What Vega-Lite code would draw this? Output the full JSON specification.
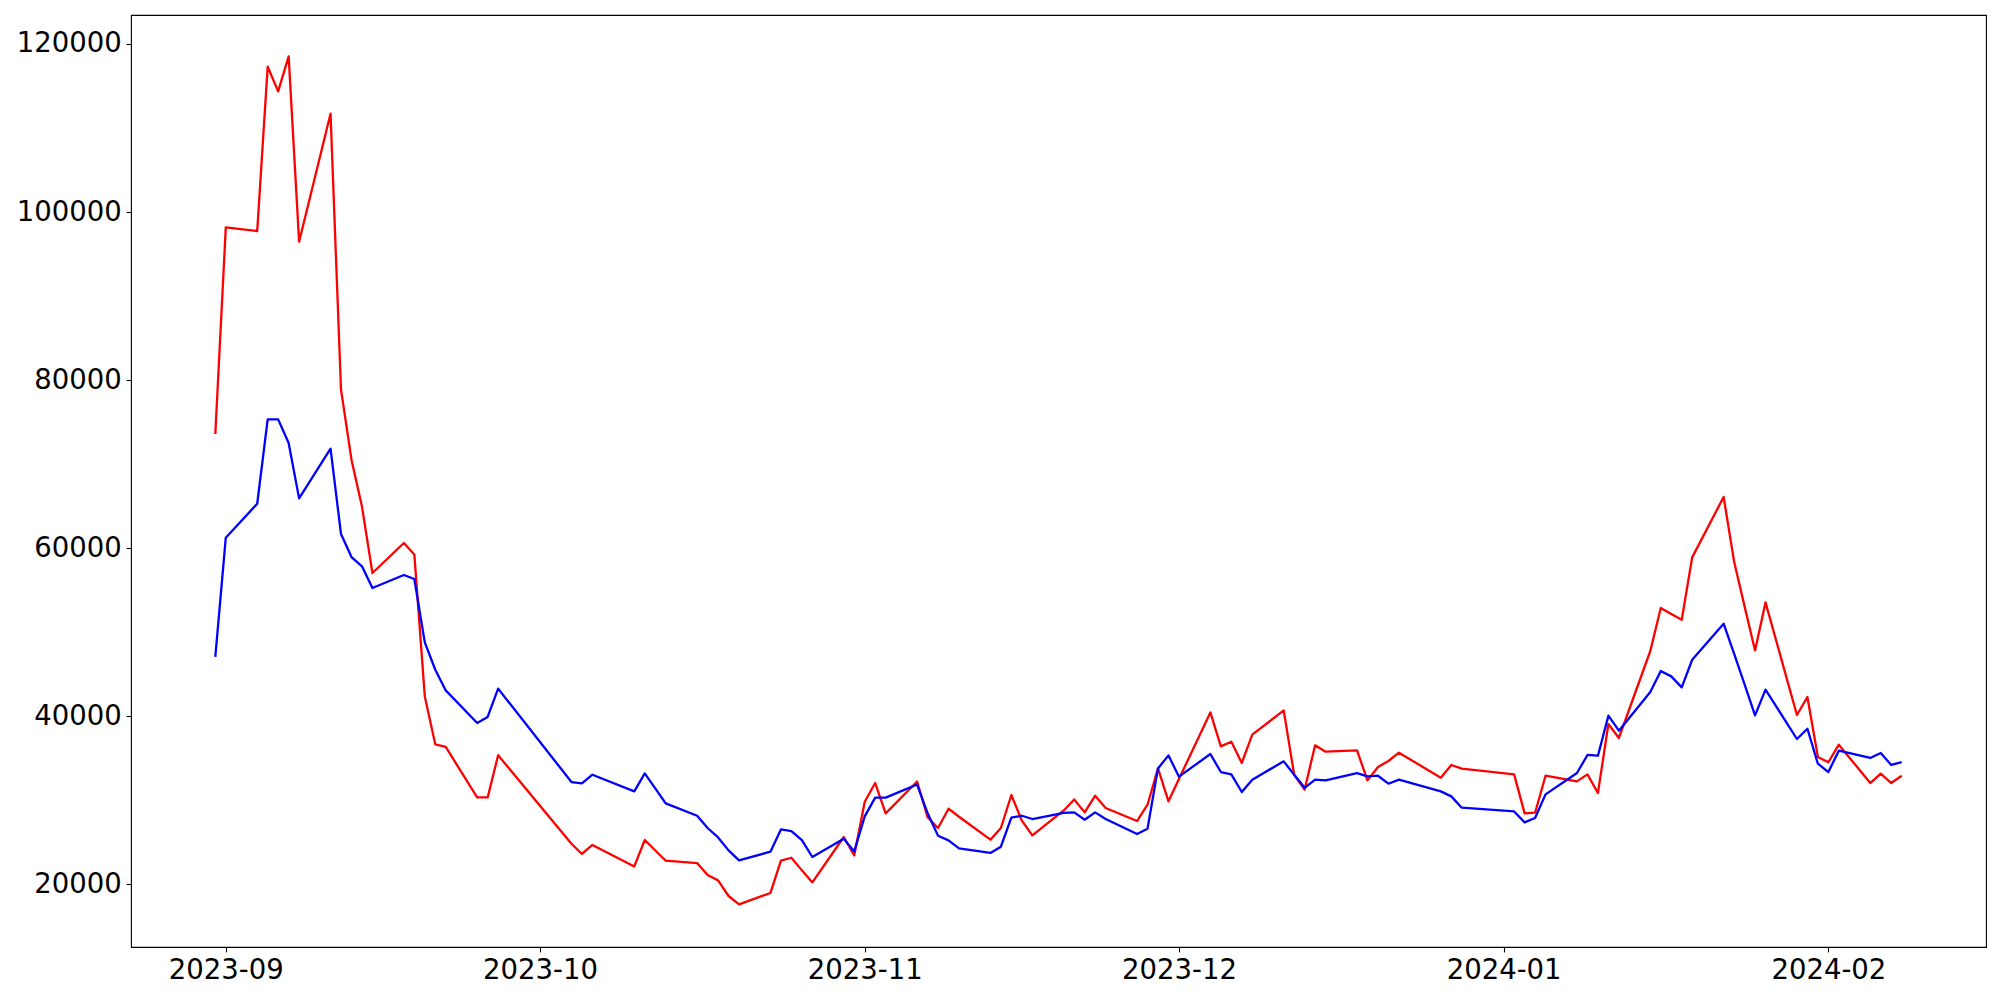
{
  "$schema": "https://vega.github.io/schema/vega-lite/v6.json",
  "width": 1855,
  "height": 932,
  "autosize": {"type": "none"},
  "padding": {"left": 131, "top": 15, "right": 14, "bottom": 53},
  "background": "white",
  "config": {
    "view": {"stroke": "black", "strokeWidth": 1.1},
    "axis": {
      "domain": false,
      "grid": false,
      "ticks": true,
      "tickSize": 4.9,
      "tickWidth": 1.1,
      "tickColor": "black",
      "labelFont": "DejaVu Sans",
      "labelFontSize": 27.5,
      "labelColor": "black",
      "labelPadding": 4.9,
      "labelOverlap": false,
      "labelFlush": false,
      "title": null
    }
  },
  "data": {
    "values": [
      {"date": "2023-08-31", "red": 73600, "blue": 47070},
      {"date": "2023-09-01", "red": 98180, "blue": 61260},
      {"date": "2023-09-04", "red": 97750, "blue": 65300},
      {"date": "2023-09-05", "red": 117300, "blue": 75340},
      {"date": "2023-09-06", "red": 114360, "blue": 75340},
      {"date": "2023-09-07", "red": 118520, "blue": 72530},
      {"date": "2023-09-08", "red": 96480, "blue": 65940},
      {"date": "2023-09-11", "red": 111710, "blue": 71850},
      {"date": "2023-09-12", "red": 78870, "blue": 61700},
      {"date": "2023-09-13", "red": 70540, "blue": 58960},
      {"date": "2023-09-14", "red": 64980, "blue": 57850},
      {"date": "2023-09-15", "red": 57060, "blue": 55280},
      {"date": "2023-09-18", "red": 60630, "blue": 56820},
      {"date": "2023-09-19", "red": 59270, "blue": 56350},
      {"date": "2023-09-20", "red": 42380, "blue": 48800},
      {"date": "2023-09-21", "red": 36670, "blue": 45550},
      {"date": "2023-09-22", "red": 36360, "blue": 43090},
      {"date": "2023-09-25", "red": 30360, "blue": 39210},
      {"date": "2023-09-26", "red": 30360, "blue": 39930},
      {"date": "2023-09-27", "red": 35380, "blue": 43300},
      {"date": "2023-10-04", "red": 24850, "blue": 32190},
      {"date": "2023-10-05", "red": 23630, "blue": 32030},
      {"date": "2023-10-06", "red": 24700, "blue": 33060},
      {"date": "2023-10-10", "red": 22150, "blue": 31080},
      {"date": "2023-10-11", "red": 25290, "blue": 33220},
      {"date": "2023-10-13", "red": 22830, "blue": 29650},
      {"date": "2023-10-16", "red": 22550, "blue": 28180},
      {"date": "2023-10-17", "red": 21130, "blue": 26720},
      {"date": "2023-10-18", "red": 20490, "blue": 25600},
      {"date": "2023-10-19", "red": 18630, "blue": 24060},
      {"date": "2023-10-20", "red": 17630, "blue": 22870},
      {"date": "2023-10-23", "red": 18990, "blue": 23900},
      {"date": "2023-10-24", "red": 22830, "blue": 26550},
      {"date": "2023-10-25", "red": 23180, "blue": 26360},
      {"date": "2023-10-26", "red": 21680, "blue": 25290},
      {"date": "2023-10-27", "red": 20250, "blue": 23270},
      {"date": "2023-10-30", "red": 25650, "blue": 25450},
      {"date": "2023-10-31", "red": 23460, "blue": 23930},
      {"date": "2023-11-01", "red": 29850, "blue": 28100},
      {"date": "2023-11-02", "red": 32070, "blue": 30330},
      {"date": "2023-11-03", "red": 28460, "blue": 30330},
      {"date": "2023-11-06", "red": 32250, "blue": 31890},
      {"date": "2023-11-07", "red": 28000, "blue": 28500},
      {"date": "2023-11-08", "red": 26720, "blue": 25800},
      {"date": "2023-11-09", "red": 29020, "blue": 25250},
      {"date": "2023-11-10", "red": 28060, "blue": 24290},
      {"date": "2023-11-13", "red": 25330, "blue": 23750},
      {"date": "2023-11-14", "red": 26720, "blue": 24500},
      {"date": "2023-11-15", "red": 30650, "blue": 27950},
      {"date": "2023-11-16", "red": 27590, "blue": 28180},
      {"date": "2023-11-17", "red": 25840, "blue": 27790},
      {"date": "2023-11-20", "red": 28810, "blue": 28510},
      {"date": "2023-11-21", "red": 30120, "blue": 28580},
      {"date": "2023-11-22", "red": 28580, "blue": 27710},
      {"date": "2023-11-23", "red": 30560, "blue": 28580},
      {"date": "2023-11-24", "red": 29100, "blue": 27790},
      {"date": "2023-11-27", "red": 27550, "blue": 26000},
      {"date": "2023-11-28", "red": 29490, "blue": 26640},
      {"date": "2023-11-29", "red": 33810, "blue": 33810},
      {"date": "2023-11-30", "red": 29890, "blue": 35360},
      {"date": "2023-12-01", "red": 32550, "blue": 32830},
      {"date": "2023-12-04", "red": 40470, "blue": 35520},
      {"date": "2023-12-05", "red": 36430, "blue": 33380},
      {"date": "2023-12-06", "red": 36990, "blue": 33100},
      {"date": "2023-12-07", "red": 34460, "blue": 31000},
      {"date": "2023-12-08", "red": 37820, "blue": 32470},
      {"date": "2023-12-11", "red": 40710, "blue": 34650},
      {"date": "2023-12-12", "red": 33060, "blue": 33060},
      {"date": "2023-12-13", "red": 31300, "blue": 31500},
      {"date": "2023-12-14", "red": 36560, "blue": 32470},
      {"date": "2023-12-15", "red": 35800, "blue": 32380},
      {"date": "2023-12-18", "red": 35950, "blue": 33260},
      {"date": "2023-12-19", "red": 32390, "blue": 32860},
      {"date": "2023-12-20", "red": 33980, "blue": 32940},
      {"date": "2023-12-21", "red": 34690, "blue": 31990},
      {"date": "2023-12-22", "red": 35680, "blue": 32470},
      {"date": "2023-12-26", "red": 32710, "blue": 31080},
      {"date": "2023-12-27", "red": 34220, "blue": 30480},
      {"date": "2023-12-28", "red": 33780, "blue": 29140},
      {"date": "2024-01-02", "red": 33100, "blue": 28690},
      {"date": "2024-01-03", "red": 28460, "blue": 27390},
      {"date": "2024-01-04", "red": 28540, "blue": 27910},
      {"date": "2024-01-05", "red": 32940, "blue": 30720},
      {"date": "2024-01-08", "red": 32270, "blue": 33260},
      {"date": "2024-01-09", "red": 33100, "blue": 35410},
      {"date": "2024-01-10", "red": 30880, "blue": 35320},
      {"date": "2024-01-11", "red": 39090, "blue": 40080},
      {"date": "2024-01-12", "red": 37430, "blue": 38300},
      {"date": "2024-01-15", "red": 47780, "blue": 42900},
      {"date": "2024-01-16", "red": 52900, "blue": 45400},
      {"date": "2024-01-17", "red": 52180, "blue": 44760},
      {"date": "2024-01-18", "red": 51500, "blue": 43450},
      {"date": "2024-01-19", "red": 58920, "blue": 46740},
      {"date": "2024-01-22", "red": 66100, "blue": 51030},
      {"date": "2024-01-23", "red": 58440, "blue": 47460},
      {"date": "2024-01-24", "red": 53090, "blue": 43800},
      {"date": "2024-01-25", "red": 47850, "blue": 40120},
      {"date": "2024-01-26", "red": 53560, "blue": 43180},
      {"date": "2024-01-29", "red": 40170, "blue": 37310},
      {"date": "2024-01-30", "red": 42310, "blue": 38530},
      {"date": "2024-01-31", "red": 35170, "blue": 34370},
      {"date": "2024-02-01", "red": 34540, "blue": 33380},
      {"date": "2024-02-02", "red": 36630, "blue": 35920},
      {"date": "2024-02-05", "red": 32070, "blue": 35050},
      {"date": "2024-02-06", "red": 33180, "blue": 35640},
      {"date": "2024-02-07", "red": 32070, "blue": 34220},
      {"date": "2024-02-08", "red": 32940, "blue": 34570}
    ]
  },
  "encoding": {
    "x": {
      "field": "date",
      "type": "temporal",
      "scale": {
        "type": "utc",
        "domain": [
          {"year": 2023, "month": 8, "date": 22, "hours": 22, "minutes": 48, "utc": true},
          {"year": 2024, "month": 2, "date": 16, "hours": 1, "minutes": 12, "utc": true}
        ]
      },
      "axis": {
        "values": [
          {"year": 2023, "month": 9, "date": 1, "utc": true},
          {"year": 2023, "month": 10, "date": 1, "utc": true},
          {"year": 2023, "month": 11, "date": 1, "utc": true},
          {"year": 2023, "month": 12, "date": 1, "utc": true},
          {"year": 2024, "month": 1, "date": 1, "utc": true},
          {"year": 2024, "month": 2, "date": 1, "utc": true}
        ],
        "labelExpr": "utcFormat(datum.value, '%Y-%m')",
        "title": null
      }
    }
  },
  "layer": [
    {
      "mark": {"type": "line", "color": "#ff0000", "strokeWidth": 2.3, "strokeJoin": "round"},
      "encoding": {
        "y": {
          "field": "red",
          "type": "quantitative",
          "scale": {"domain": [12562, 123450], "nice": false, "zero": false},
          "axis": {"values": [20000, 40000, 60000, 80000, 100000, 120000], "format": "d", "title": null}
        }
      }
    },
    {
      "mark": {"type": "line", "color": "#0000ff", "strokeWidth": 2.3, "strokeJoin": "round"},
      "encoding": {
        "y": {
          "field": "blue",
          "type": "quantitative",
          "scale": {"domain": [12562, 123450], "nice": false, "zero": false},
          "axis": {"values": [20000, 40000, 60000, 80000, 100000, 120000], "format": "d", "title": null}
        }
      }
    }
  ]
}
